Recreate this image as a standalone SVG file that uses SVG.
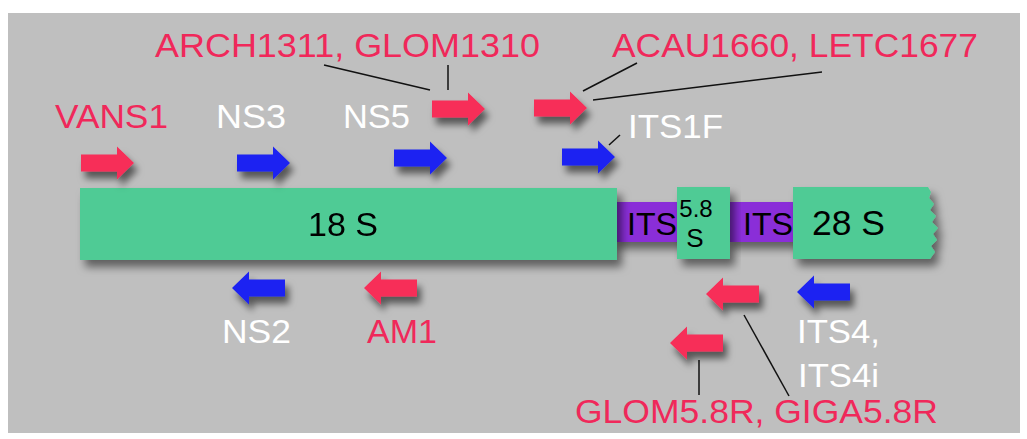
<svg xmlns="http://www.w3.org/2000/svg" xmlns:xlink="http://www.w3.org/1999/xlink" width="1027" height="439" viewBox="0 0 1027 439">
  <style>
    .lbl { font-family: "Liberation Sans", Arial, sans-serif; font-size: 34px; }
    .red { fill: #f0285a; }
    .wht { fill: #ffffff; }
    .blk { fill: #000000; font-family: "Liberation Sans", Arial, sans-serif; }
    .seg { fill: #4fcb95; }
    .its { fill: #8a2fd8; }
    .lead { stroke: #111111; stroke-width: 1.5; fill: none; }
    .ar { fill: #f72d58; }
    .ab { fill: #1d22f2; }
  </style>
  <defs>
    <filter id="sh" x="-30%" y="-30%" width="170%" height="190%">
      <feDropShadow dx="4" dy="7" stdDeviation="3.5" flood-color="#000" flood-opacity="0.55"/>
    </filter>
    <filter id="shr" x="-10%" y="-20%" width="130%" height="160%">
      <feDropShadow dx="5" dy="7" stdDeviation="4" flood-color="#000" flood-opacity="0.5"/>
    </filter>
    <path id="arR" d="M0,-8.5 H36 V-16.5 L53,0 L36,16.5 V8.5 H0 Z"/>
    <path id="arL" d="M0,-8.5 H-36 V-16.5 L-53,0 L-36,16.5 V8.5 H0 Z"/>
  </defs>

  <rect x="8" y="13" width="1012" height="420" fill="#bfbfbf"/>

  <!-- gene segments -->
  <g id="its1" filter="url(#shr)">
    <rect class="its" x="612" y="202" width="70" height="40"/>
  </g>
  <g id="its2" filter="url(#shr)">
    <rect class="its" x="726" y="202" width="70" height="40"/>
  </g>
  <g id="s18" filter="url(#shr)">
    <rect class="seg" x="80" y="188" width="537" height="72"/>
    <text class="blk" x="343" y="236" font-size="34" text-anchor="middle" textLength="70" lengthAdjust="spacingAndGlyphs">18 S</text>
  </g>
  <g id="s58" filter="url(#shr)">
    <rect class="seg" x="677" y="187" width="53" height="72"/>
  </g>
  <g id="s28" filter="url(#shr)">
    <path class="seg" d="M793,187 H928 L931,192 L929,198 L934,204 L930,210 L936,216 L932,222 L938,228 L933,234 L937,240 L931,246 L935,252 L930,259 H793 Z"/>
  </g>
  <g id="segtext">
    <text class="blk" x="627" y="235" font-size="32" textLength="50" lengthAdjust="spacingAndGlyphs">ITS</text>
    <text class="blk" x="743" y="235" font-size="32" textLength="50" lengthAdjust="spacingAndGlyphs">ITS</text>
    <text class="blk" x="696" y="217" font-size="24" text-anchor="middle">5.8</text>
    <text class="blk" x="695" y="247" font-size="26" text-anchor="middle">S</text>
    <text class="blk" x="812" y="235" font-size="35" textLength="73" lengthAdjust="spacingAndGlyphs">28 S</text>
  </g>

  <!-- connectors (leader lines) -->
  <g id="connectors">
    <line class="lead" x1="324" y1="65" x2="430" y2="90"/>
    <line class="lead" x1="448" y1="65" x2="448" y2="90"/>
    <line class="lead" x1="637" y1="63" x2="583" y2="91"/>
    <line class="lead" x1="822" y1="72" x2="593" y2="100"/>
    <line class="lead" x1="620" y1="135" x2="609" y2="145"/>
    <line class="lead" x1="744" y1="315" x2="789" y2="396"/>
    <line class="lead" x1="699" y1="360" x2="699" y2="395"/>
  </g>

  <!-- forward primers -->
  <g id="VANS1">
    <use href="#arR" class="ar" x="81" y="163" filter="url(#sh)"/>
    <text class="lbl red" x="55" y="128" textLength="113" lengthAdjust="spacingAndGlyphs">VANS1</text>
  </g>
  <g id="NS3">
    <use href="#arR" class="ab" x="237" y="163" filter="url(#sh)"/>
    <text class="lbl wht" x="216" y="128" textLength="70" lengthAdjust="spacingAndGlyphs">NS3</text>
  </g>
  <g id="NS5">
    <use href="#arR" class="ab" x="394" y="158" filter="url(#sh)"/>
    <text class="lbl wht" x="343" y="128" textLength="67" lengthAdjust="spacingAndGlyphs">NS5</text>
  </g>
  <g id="ARCH1311_GLOM1310">
    <use href="#arR" class="ar" x="432" y="109" filter="url(#sh)"/>
    <text class="lbl red" x="155" y="57" textLength="385" lengthAdjust="spacingAndGlyphs">ARCH1311, GLOM1310</text>
  </g>
  <g id="ACAU1660_LETC1677">
    <use href="#arR" class="ar" x="534" y="108" filter="url(#sh)"/>
    <text class="lbl red" x="612" y="57" textLength="366" lengthAdjust="spacingAndGlyphs">ACAU1660, LETC1677</text>
  </g>
  <g id="ITS1F">
    <use href="#arR" class="ab" x="562" y="157" filter="url(#sh)"/>
    <text class="lbl wht" x="628" y="138" textLength="95" lengthAdjust="spacingAndGlyphs">ITS1F</text>
  </g>

  <!-- reverse primers -->
  <g id="NS2">
    <use href="#arL" class="ab" x="285" y="288" filter="url(#sh)"/>
    <text class="lbl wht" x="222" y="343" textLength="69" lengthAdjust="spacingAndGlyphs">NS2</text>
  </g>
  <g id="AM1">
    <use href="#arL" class="ar" x="417" y="288" filter="url(#sh)"/>
    <text class="lbl red" x="367" y="343" textLength="70" lengthAdjust="spacingAndGlyphs">AM1</text>
  </g>
  <g id="GIGA5.8R">
    <use href="#arL" class="ar" x="759" y="294" filter="url(#sh)"/>
  </g>
  <g id="ITS4">
    <use href="#arL" class="ab" x="850" y="292" filter="url(#sh)"/>
    <text class="lbl wht" x="797" y="343" textLength="83" lengthAdjust="spacingAndGlyphs">ITS4,</text>
    <text class="lbl wht" x="798" y="387" textLength="81" lengthAdjust="spacingAndGlyphs">ITS4i</text>
  </g>
  <g id="GLOM5.8R">
    <use href="#arL" class="ar" x="723" y="343" filter="url(#sh)"/>
    <text class="lbl red" x="575" y="423" textLength="363" lengthAdjust="spacingAndGlyphs">GLOM5.8R, GIGA5.8R</text>
  </g>
</svg>
